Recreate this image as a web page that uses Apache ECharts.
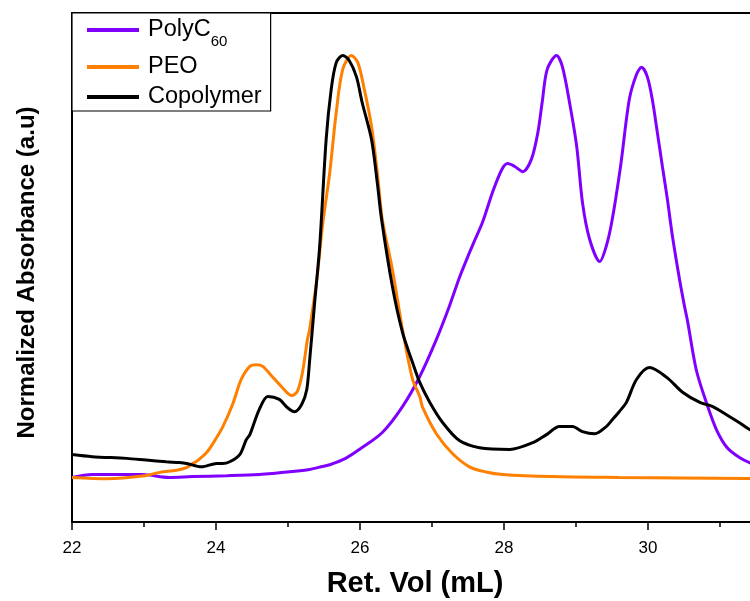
<!DOCTYPE html>
<html>
<head>
<meta charset="utf-8">
<title>GPC traces</title>
<script src="https://cdn.jsdelivr.net/npm/echarts@6/dist/echarts.min.js"></script>
<style>
  html, body { margin: 0; padding: 0; background: #fff; }
  #chart { width: 750px; height: 601px; }
</style>
</head>
<body>
<div id="chart"></div>
<script>
// Retention volume (mL) and normalized absorbance for each trace
const polyVol = [22.00, 22.28, 22.98, 23.35, 23.67, 24.15, 24.60, 25.06, 25.30, 25.48, 25.58, 25.80, 26.00,
  26.31, 26.59, 26.83, 27.06, 27.24, 27.38, 27.52, 27.58, 27.70, 27.84, 27.97, 28.05, 28.15, 28.26,
  28.38, 28.47, 28.53, 28.60, 28.73, 28.81, 28.91, 29.01, 29.09, 29.19, 29.33, 29.42, 29.50, 29.62,
  29.74, 29.84, 29.91, 29.99, 30.06, 30.13, 30.20, 30.27, 30.34, 30.44, 30.51, 30.55, 30.67, 30.81,
  30.95, 31.10, 31.27, 31.41, 31.60];
const polyAbs = [0.005, 0.012, 0.012, 0.005, 0.007, 0.009, 0.012, 0.019, 0.024, 0.031, 0.035, 0.050, 0.072,
  0.111, 0.172, 0.243, 0.330, 0.408, 0.476, 0.535, 0.559, 0.606, 0.677, 0.731, 0.745, 0.738, 0.726,
  0.755, 0.818, 0.889, 0.967, 1.000, 0.974, 0.889, 0.785, 0.653, 0.566, 0.514, 0.550, 0.610, 0.740,
  0.896, 0.955, 0.972, 0.950, 0.896, 0.818, 0.738, 0.660, 0.573, 0.470, 0.406, 0.373, 0.259, 0.182,
  0.118, 0.075, 0.052, 0.040, 0.030];

const peoVol = [22.00, 22.49, 23.01, 23.22, 23.45, 23.59, 23.67, 23.73, 23.87, 23.95, 24.09, 24.23, 24.35,
  24.47, 24.56, 24.65, 24.78, 24.92, 25.05, 25.13, 25.20, 25.27, 25.30, 25.40, 25.48, 25.58, 25.67,
  25.76, 25.88, 25.97, 26.06, 26.16, 26.24, 26.31, 26.45, 26.59, 26.73, 26.83, 26.87, 27.06, 27.28,
  27.52, 27.75, 27.98, 28.67, 29.60, 31.60];
const peoAbs = [0.005, 0.002, 0.009, 0.017, 0.022, 0.028, 0.037, 0.043, 0.064, 0.083, 0.123, 0.177, 0.236,
  0.267, 0.271, 0.267, 0.243, 0.217, 0.198, 0.208, 0.252, 0.330, 0.354, 0.472, 0.600, 0.724, 0.866,
  0.967, 1.000, 0.983, 0.920, 0.833, 0.724, 0.613, 0.495, 0.354, 0.236, 0.196, 0.170, 0.108, 0.062,
  0.030, 0.018, 0.012, 0.007, 0.005, 0.002];

const copoVol = [22.00, 22.28, 22.76, 23.03, 23.31, 23.49, 23.59, 23.80, 24.01, 24.09, 24.19, 24.33, 24.42,
  24.47, 24.60, 24.72, 24.88, 24.99, 25.09, 25.19, 25.26, 25.30, 25.37, 25.44, 25.53, 25.60, 25.67,
  25.76, 25.85, 25.95, 26.03, 26.16, 26.24, 26.30, 26.45, 26.59, 26.73, 26.83, 26.97, 27.15, 27.38,
  27.66, 28.08, 28.40, 28.59, 28.77, 28.95, 29.09, 29.26, 29.42, 29.51, 29.60, 29.70, 29.84, 30.02,
  30.26, 30.48, 30.72, 30.90, 31.09, 31.27, 31.41, 31.60];
const copoAbs = [0.059, 0.054, 0.050, 0.046, 0.042, 0.040, 0.038, 0.030, 0.038, 0.038, 0.042, 0.059, 0.094,
  0.106, 0.165, 0.196, 0.189, 0.170, 0.160, 0.177, 0.212, 0.280, 0.417, 0.550, 0.802, 0.920, 0.983,
  1.000, 0.988, 0.950, 0.889, 0.802, 0.700, 0.613, 0.455, 0.347, 0.276, 0.229, 0.182, 0.134, 0.092,
  0.075, 0.071, 0.087, 0.106, 0.125, 0.125, 0.113, 0.108, 0.125, 0.142, 0.160, 0.182, 0.236, 0.264,
  0.241, 0.206, 0.182, 0.172, 0.153, 0.134, 0.118, 0.105];

const xTicks = { min: 22, max: 32, step: 2 };

function pairs(xs, ys) { return xs.map((x, i) => [x, ys[i]]); }

const FONT = '"Liberation Sans", Arial, sans-serif';

const chart = echarts.init(document.getElementById('chart'), null, { renderer: 'canvas' });

function trace(name, color, xs, ys) {
  return {
    name: name,
    type: 'line',
    data: pairs(xs, ys),
    showSymbol: false,
    symbol: 'none',
    smooth: 0.3,
    clip: true,
    lineStyle: { color: color, width: 3 },
    itemStyle: { color: color },
    emphasis: { disabled: true },
    animation: false
  };
}

chart.setOption({
  animation: false,
  backgroundColor: '#fff',
  // plot area runs past the right edge of the canvas; the 32 mL end is cut off
  grid: { left: 72, top: 13, bottom: 79, width: 720, containLabel: false, outerBoundsMode: 'none' },
  legend: {
    orient: 'vertical',
    left: 72,
    top: 13,
    padding: [5, 9, 2, 15],
    itemGap: 6,
    itemWidth: 52,
    itemHeight: 4,
    icon: 'rect',
    borderColor: '#000',
    borderWidth: 1.2,
    borderRadius: 0,
    backgroundColor: '#fff',
    data: ['PolyC60', 'PEO', 'Copolymer'],
    formatter: function (name) {
      return name === 'PolyC60' ? '{main|PolyC}{sub|60}' : name;
    },
    textStyle: {
      fontFamily: FONT,
      fontSize: 23.5,
      color: '#000',
      padding: [0, 0, 0, 4],
      rich: {
        main: { fontFamily: FONT, fontSize: 23.5, color: '#000' },
        sub: { fontFamily: FONT, fontSize: 15, color: '#000', padding: [23, 0, 0, 0] }
      }
    }
  },
  xAxis: [
    {
      type: 'value',
      position: 'bottom',
      min: xTicks.min,
      max: xTicks.max,
      interval: xTicks.step,
      name: 'Ret. Vol (mL)',
      nameLocation: 'middle',
      nameGap: 47,
      nameTextStyle: { fontFamily: FONT, fontSize: 29, fontWeight: 'bold', color: '#000', padding: [0, 34, 0, 0] },
      axisLine: { show: true, onZero: false, lineStyle: { color: '#000', width: 2 } },
      axisTick: { show: true, inside: false, length: 8, lineStyle: { color: '#000', width: 1.5 } },
      minorTick: { show: true, splitNumber: 2, length: 5, lineStyle: { color: '#000', width: 1.5 } },
      axisLabel: { fontFamily: FONT, fontSize: 17, color: '#000', margin: 18 },
      splitLine: { show: false },
      minorSplitLine: { show: false }
    },
    {
      type: 'value',
      position: 'top',
      min: xTicks.min,
      max: xTicks.max,
      interval: xTicks.step,
      axisLine: { show: true, onZero: false, lineStyle: { color: '#000', width: 2 } },
      axisTick: { show: false },
      axisLabel: { show: false },
      splitLine: { show: false }
    }
  ],
  yAxis: {
    type: 'value',
    min: -0.1,
    max: 1.1,
    name: 'Normalized Absorbance (a.u)',
    nameLocation: 'middle',
    nameGap: 33,
    nameTextStyle: { fontFamily: FONT, fontSize: 24, fontWeight: 'bold', color: '#000', padding: [0, 10, 0, 0] },
    axisLine: { show: true, onZero: false, lineStyle: { color: '#000', width: 2 } },
    axisTick: { show: false },
    axisLabel: { show: false },
    splitLine: { show: false }
  },
  series: [
    trace('PolyC60', '#8000FF', polyVol, polyAbs),
    trace('PEO', '#FF8000', peoVol, peoAbs),
    trace('Copolymer', '#000000', copoVol, copoAbs)
  ]
});
</script>
</body>
</html>
